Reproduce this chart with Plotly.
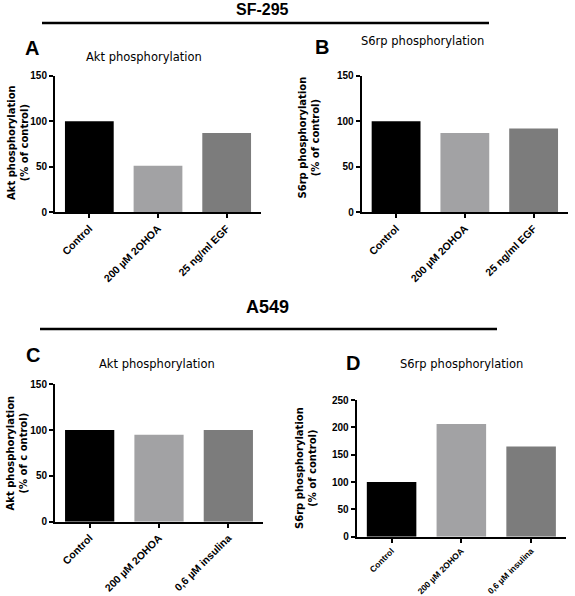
import plotly.graph_objects as go

W, H = 575, 596

cats_sf = ["Control", "200 µM 2OHOA", "25 ng/ml EGF"]
cats_a549 = ["Control", "200 µM 2OHOA", "0,6 µM insulina"]
akt_sf = [100, 51, 87]
s6_sf = [100, 87, 92]
akt_a549 = [100, 95, 100]
s6_a549 = [100, 206, 165]
ytitles = ["Akt phosphorylation<br>(% of control)", "S6rp phosphorylation<br>(% of control)",
           "Akt phosphorylation<br>(% of c ontrol)", "S6rp phosphorylation<br>(% of control)"]
bar_colors = ["#000000", "#a2a2a4", "#7c7c7c"]

panels = [
    # (cats, values, xdomain px, ydomain px (top,bottom), ymax, ytitle, ytitle center px, xtick size)
    (cats_sf, akt_sf, (55, 261), (75.7, 212.3), 150, ytitles[0], (18, 143), 10.5),
    (cats_sf, s6_sf, (361.7, 568), (75.7, 212.3), 150, ytitles[1], (308.5, 138), 10.5),
    (cats_a549, akt_a549, (55, 263), (384.3, 521.7), 150, ytitles[2], (16.5, 453), 10.5),
    (cats_a549, s6_a549, (356.7, 566), (400, 536.7), 250, ytitles[3], (306, 468), 8.5),
]

fig = go.Figure()
layout = dict(width=W, height=H, margin=dict(l=0, r=0, t=0, b=0, autoexpand=False),
              paper_bgcolor="white", plot_bgcolor="white", showlegend=False,
              font=dict(family="Liberation Sans, Arial", color="black"))

for i, (cats, vals, xd, yd, ymax, yt, ytc, xfs) in enumerate(panels):
    n = "" if i == 0 else str(i + 1)
    fig.add_trace(go.Bar(x=cats, y=vals, marker=dict(color=bar_colors, line=dict(width=0)),
                         width=0.71, xaxis="x" + n, yaxis="y" + n))
    layout["xaxis" + n] = dict(domain=[xd[0] / W, xd[1] / W], range=[-0.5, 2.5], anchor="y" + n,
                               automargin=False,
                               showline=True, linewidth=2, linecolor="black", ticks="outside",
                               ticklen=4, tickwidth=1.5, tickcolor="black", tickangle=-45,
                               showgrid=False, zeroline=False, fixedrange=True,
                               tickvals=cats, ticktext=["<b>%s</b>" % c for c in cats],
                               tickfont=dict(family="Liberation Sans, Arial", size=xfs, color="black"))
    layout["yaxis" + n] = dict(domain=[1 - yd[1] / H, 1 - yd[0] / H], range=[0, ymax], anchor="x" + n,
                               automargin=False,
                               showline=True, linewidth=2, linecolor="black", ticks="outside",
                               ticklen=4, tickwidth=1.5, tickcolor="black",
                               tickvals=list(range(0, ymax + 1, 50)),
                               ticktext=["<b>%d</b>" % v for v in range(0, ymax + 1, 50)],
                               showgrid=False, zeroline=False,
                               tickfont=dict(family="Liberation Sans, Arial", size=10, color="black"))
    fig.add_annotation(text="<b>" + yt + "</b>", x=ytc[0] / W, y=1 - ytc[1] / H,
                       xref="paper", yref="paper", showarrow=False, textangle=-90,
                       xanchor="center", yanchor="middle",
                       font=dict(family="DejaVu Sans", size=10, color="black"))

fig.update_layout(**layout)

def ann(text, x, y, size, bold=False, family="Liberation Sans, Arial"):
    fig.add_annotation(text=("<b>%s</b>" % text) if bold else text, x=x / W, y=1 - y / H,
                       xref="paper", yref="paper", showarrow=False, xanchor="center",
                       yanchor="middle", font=dict(family=family, size=size, color="black"))

ann("SF-295", 262, 9, 16, bold=True)
ann("A549", 267, 307, 18, bold=True)
ann("A", 32, 48, 20, bold=True)
ann("B", 322, 47, 20, bold=True)
ann("C", 33, 355, 20, bold=True)
ann("D", 353, 363, 20, bold=True)
ann("Akt phosphorylation", 143.5, 57, 11.5, family="DejaVu Sans")
ann("S6rp phosphorylation", 422, 41, 11.5, family="DejaVu Sans")
ann("Akt phosphorylation", 157, 364, 11.5, family="DejaVu Sans")
ann("S6rp phosphorylation", 461, 364, 11.5, family="DejaVu Sans")

for (x0, x1, y) in [(42, 489, 23), (40, 497, 329)]:
    fig.add_shape(type="line", xref="paper", yref="paper", x0=x0 / W, x1=x1 / W,
                  y0=1 - y / H, y1=1 - y / H, line=dict(color="black", width=2.5))

fig.write_html("out.html")
